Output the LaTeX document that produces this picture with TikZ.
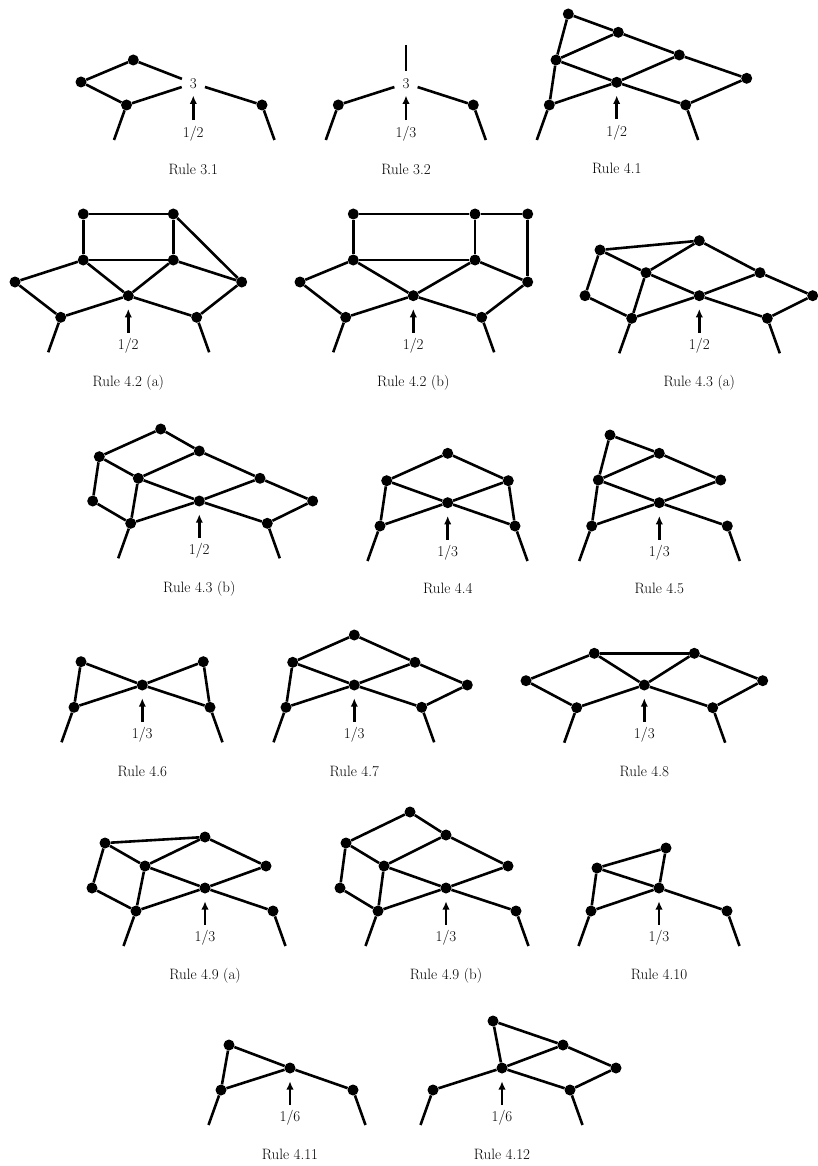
\documentclass[tikz,border=0pt]{standalone}
\usepackage{fontspec}
\usetikzlibrary{arrows.meta,calc}
\newcommand\rulefont{\fontsize{15}{18}\selectfont}
\tikzset{
  vtx/.style={circle,fill=black,inner sep=0pt,minimum size=11pt},
  hub/.style={circle,inner sep=0pt,minimum size=24pt,font=\rulefont},
  link/.style={line width=2.6pt},
  push/.style={link,-{Latex[length=8.5pt,width=7.5pt]},shorten >=#1},
  push/.default=7.5pt,
  frac/.style={inner sep=5.5pt,font=\rulefont},
  caption/.style={anchor=base,inner sep=0pt,font=\rulefont},
}
\newcommand\graphnodes[2]{\foreach \n/\x/\y in {#2} \node[vtx] (#1\n) at (\x,\y) {};}
\newcommand\graphlinks[2]{\foreach \u/\v in {#2} \draw[link] (#1\u) -- (#1\v);}
\newcommand\legs[3]{%
  \coordinate (#1#2x) at ($(#1#2)+(-12.5,35)$);
  \coordinate (#1#3x) at ($(#1#3)+(12.5,35)$);
  \draw[link] (#1#2) -- (#1#2x) (#1#3) -- (#1#3x);}
\newcommand\rulenote[4][7.5pt]{%
  \node[frac] (#2lab) at ($(#2c)+(0,50)$) {#3};
  \node[caption] (#2cap) at ($(#2c)+(0,91)$) {#4};
  \draw[push=#1] (#2lab) -- (#2c);}
\begin{document}
\begin{tikzpicture}[x=1pt,y=-1pt]
  \useasboundingbox (0,0) rectangle (817,1166);
  % row 1
  \graphnodes{r31}{t/133.3/60, l/81/82, b/126.5/105, r/262/105}
  \node[hub] (r31c) at (193.3,83.3) {3};
  \graphlinks{r31}{t/l, l/b, t/c, b/c, c/r}
  \legs{r31}{b}{r}
  \rulenote[0pt]{r31}{1/2}{Rule 3.1}

  \graphnodes{r32}{l/338.3/105, r/473.3/105}
  \node[hub] (r32c) at (406,83.3) {3};
  \coordinate (r32top) at (406,45);
  \graphlinks{r32}{l/c, c/r, top/c}
  \legs{r32}{l}{r}
  \rulenote[0pt]{r32}{1/3}{Rule 3.2}

  \graphnodes{r41}{a/568.3/14, b/618.3/32.3, d/679.3/55, e/746.7/78.3, f/556/60,
    c/616.7/82.3, g/549.3/105, h/685.7/105}
  \graphlinks{r41}{a/b, b/d, d/e, a/f, f/g, f/b, f/c, c/d, g/c, c/h, h/e}
  \legs{r41}{g}{h}
  \rulenote{r41}{1/2}{Rule 4.1}

  % row 2
  \graphnodes{r42a}{tl/83.3/214, tr/173.3/214, ml/83.3/260, mr/173.3/260, l/15/282,
    r/241.7/282, c/128.3/295.7, bl/60.7/317.3, br/196.7/317.3}
  \graphlinks{r42a}{tl/tr, tl/ml, tr/mr, ml/mr, tr/r, ml/l, ml/c, mr/c, mr/r, l/bl, bl/c, c/br, br/r}
  \legs{r42a}{bl}{br}
  \rulenote{r42a}{1/2}{Rule 4.2 (a)}

  \graphnodes{r42b}{ta/353.3/214, tb/475/214, tc/527.7/214, ma/353.3/260, mb/475/260,
    l/300/282, r/527.7/282, c/413.3/295.7, bl/345.7/317.3, br/481.7/317.3}
  \graphlinks{r42b}{ta/tb, tb/tc, ta/ma, tb/mb, ma/mb, tc/r, ma/l, ma/c, mb/c, mb/r, l/bl, bl/c, c/br, br/r}
  \legs{r42b}{bl}{br}
  \rulenote{r42b}{1/2}{Rule 4.2 (b)}

  \graphnodes{r43a}{a/600/250, b/699.3/240.7, f/646/272.7, d/760/272.7, l/585/295.7,
    c/699.3/295.7, e/812.7/295.7, g/631.7/318.3, h/767.3/318.3}
  \graphlinks{r43a}{a/b, a/f, a/l, b/f, b/d, f/c, f/g, l/g, g/c, c/d, c/h, d/e, h/e}
  \legs{r43a}{g}{h}
  \rulenote{r43a}{1/2}{Rule 4.3 (a)}

  % row 3
  \graphnodes{r43b}{p/160.7/429, a/99.3/456.7, b/199.3/451, f/138.3/478.3, d/260/478.3,
    l/92.7/501, c/199.3/501, e/312.7/501, g/130.7/523.3, h/267.3/523.3}
  \graphlinks{r43b}{p/a, p/b, a/f, a/l, b/f, b/d, f/c, f/g, l/g, g/c, c/d, c/h, d/e, h/e}
  \legs{r43b}{g}{h}
  \rulenote{r43b}{1/2}{Rule 4.3 (b)}

  \graphnodes{r44}{t/447.7/453.3, a/386.7/480.7, b/508.3/480.7, c/447.7/502.7,
    g/380/526, h/515/526}
  \graphlinks{r44}{t/a, t/b, a/c, b/c, a/g, b/h, g/c, c/h}
  \legs{r44}{g}{h}
  \rulenote{r44}{1/3}{Rule 4.4}

  \graphnodes{r45}{a/610/435, b/659.3/453.3, f/598.3/480, d/720.7/480, c/659.3/502.7,
    g/591.7/526, h/727.3/526}
  \graphlinks{r45}{a/b, a/f, f/b, b/d, f/c, c/d, f/g, g/c, c/h}
  \legs{r45}{g}{h}
  \rulenote{r45}{1/3}{Rule 4.5}

  % row 4
  \graphnodes{r46}{a/81/661.7, b/203.3/661.7, c/142.3/685, g/74/707.3, h/210/707.3}
  \graphlinks{r46}{a/c, b/c, a/g, b/h, g/c, c/h}
  \legs{r46}{g}{h}
  \rulenote{r46}{1/3}{Rule 4.6}

  \graphnodes{r47}{t/354.3/635, a/292.7/662.3, b/415/662.3, e/467.3/685, c/354.3/685,
    g/286/707.3, h/421.7/707.3}
  \graphlinks{r47}{t/a, t/b, a/c, b/c, b/e, a/g, g/c, c/h, h/e}
  \legs{r47}{g}{h}
  \rulenote{r47}{1/3}{Rule 4.7}

  \graphnodes{r48}{a/594.3/653.3, b/694.3/653.3, l/526/680.7, r/762.7/680.7, c/644.3/685,
    g/576.7/707.7, h/712.7/707.7}
  \graphlinks{r48}{a/b, a/l, a/c, b/c, b/r, l/g, g/c, c/h, h/r}
  \legs{r48}{g}{h}
  \rulenote{r48}{1/3}{Rule 4.8}

  % row 5
  \graphnodes{r49a}{a/105/843, b/205/837, f/145/866, d/266/866, l/92/888, c/205/888,
    g/136/911, h/273/911}
  \graphlinks{r49a}{a/b, a/f, a/l, b/f, b/d, f/c, f/g, l/g, g/c, c/d, c/h}
  \legs{r49a}{g}{h}
  \rulenote{r49a}{1/3}{Rule 4.9 (a)}

  \graphnodes{r49b}{p/410/812, a/346/843, b/446/835, f/384/866, d/508/866, l/340/888,
    c/446/888, g/378/911, h/516/911}
  \graphlinks{r49b}{p/a, p/b, a/f, a/l, b/f, b/d, f/c, f/g, l/g, g/c, c/d, c/h}
  \legs{r49b}{g}{h}
  \rulenote{r49b}{1/3}{Rule 4.9 (b)}

  \graphnodes{r410}{f/597/868, t/666/848, c/659/888, g/591/911, h/727/911}
  \graphlinks{r410}{f/t, t/c, f/c, f/g, g/c, c/h}
  \legs{r410}{g}{h}
  \rulenote{r410}{1/3}{Rule 4.10}

  % row 6
  \graphnodes{r411}{a/229/1045, c/290/1068, g/221/1090, h/353/1090}
  \graphlinks{r411}{a/c, a/g, g/c, c/h}
  \legs{r411}{g}{h}
  \rulenote{r411}{1/6}{Rule 4.11}

  \graphnodes{r412}{p/493/1021, b/563/1045, d/616/1068, c/502/1068, g/433/1090, h/570/1090}
  \graphlinks{r412}{p/b, p/c, b/c, b/d, c/g, c/h, h/d}
  \legs{r412}{g}{h}
  \rulenote{r412}{1/6}{Rule 4.12}
\end{tikzpicture}
\end{document}
